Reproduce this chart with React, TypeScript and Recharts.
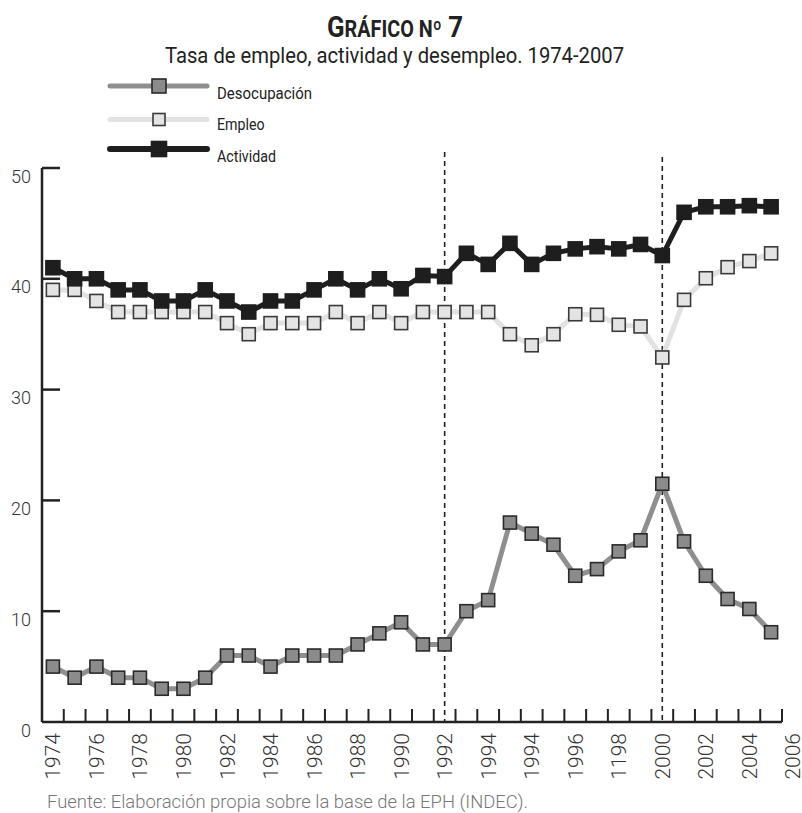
import React from 'react';
import { LineChart, Line, XAxis, YAxis, ReferenceLine, Legend } from 'recharts';

// ---------------------------------------------------------------------------
// Data
// ---------------------------------------------------------------------------

const YEARS = [
  '1974', '1975', '1976', '1977', '1978', '1979', '1980', '1981', '1982', '1983',
  '1984', '1985', '1986', '1987', '1988', '1989', '1990', '1991', '1992', '1993',
  '1994', '1995', '1996', '1997', '1998', '1999', '2000', '2001', '2002', '2003',
  '2004', '2005', '2006', '2007',
];

const DESOCUPACION = [
  5, 4, 5, 4, 4, 3, 3, 4, 6, 6, 5, 6, 6, 6, 7, 8, 9,
  7, 7, 10, 11, 18, 17, 16, 13.2, 13.8, 15.4, 16.4, 21.5, 16.3, 13.2, 11.1, 10.2, 8.1,
];

const EMPLEO = [
  39, 39, 38, 37, 37, 37, 37, 37, 36, 35, 36, 36, 36, 37, 36, 37, 36,
  37, 37, 37, 37, 35, 34, 35, 36.8, 36.75, 35.85, 35.7, 32.9, 38.1, 40.05, 41.05, 41.6, 42.3,
];

const ACTIVIDAD = [
  41, 40, 40, 39, 39, 38, 38, 39, 38, 37, 38, 38, 39, 40, 39, 40, 39.1,
  40.3, 40.2, 42.3, 41.3, 43.2, 41.3, 42.3, 42.7, 42.9, 42.7, 43.1, 42.1, 46, 46.5, 46.5, 46.6, 46.5,
];

// tick labels as printed in the source (every second year, typos included)
const X_TICK_LABELS = [
  '1974', '1976', '1978', '1980', '1982', '1984', '1986', '1988', '1990',
  '1992', '1994', '1994', '1996', '1198', '2000', '2002', '2004', '2006',
];

const Y_TICKS = [0, 10, 20, 30, 40, 50];
const Y_MAX = 50;

// dashed markers: year of the series and how far above the frame they start
const DASHED_YEARS = ['1992', '2002'];
const DASHED_TOPS = [51.45, 51.0];

// ---------------------------------------------------------------------------
// Layout / styles
// ---------------------------------------------------------------------------

const W = 802;
const H = 813;
const MARGIN = { top: 168, right: 20, bottom: 30, left: 0 };
const Y_AXIS_W = 42;
const FRAME_H = 1;
const LABEL_AXIS_H = 60;
const PLOT_TOP = MARGIN.top;
const PLOT_BOTTOM = H - MARGIN.bottom - LABEL_AXIS_H - FRAME_H;

const SERIES = [
  { key: 'desocupacion', name: 'Desocupación', line: '#8f8f8f', fill: '#8b8b8b', edge: '#2a2a2a', dot: 13, width: 5 },
  { key: 'empleo', name: 'Empleo', line: '#e2e2e2', fill: '#e4e4e4', edge: '#3a3a3a', dot: 13, width: 5 },
  { key: 'actividad', name: 'Actividad', line: '#1e1e1e', fill: '#1e1e1e', edge: '#1e1e1e', dot: 14, width: 5 },
];

// legend rows follow SERIES order
const LEGEND_ROWS = [
  { lineY: 86, textY: 99, textW: 95, lineW: 5, dot: 14 },
  { lineY: 119.5, textY: 129.5, textW: 47.5, lineW: 5, dot: 12 },
  { lineY: 149, textY: 161.5, textW: 59, lineW: 6, dot: 15 },
];

const FONT = 'Roboto, "Liberation Sans", sans-serif';
const INK = '#222';

const data = YEARS.map((year, i) => ({
  i,
  year,
  desocupacion: DESOCUPACION[i],
  empleo: EMPLEO[i],
  actividad: ACTIVIDAD[i],
}));

const X_DOMAIN = [-0.5, YEARS.length - 0.5];
const BOUNDARY_TICKS = [...YEARS.map((_, i) => i - 0.5), YEARS.length - 0.5];
const LABEL_TICKS = X_TICK_LABELS.map((_, k) => k * 2);

// ---------------------------------------------------------------------------
// Pieces
// ---------------------------------------------------------------------------

function squareDot(s: (typeof SERIES)[number]) {
  return (props: any) => {
    const { cx, cy, index } = props;
    if (cx == null || cy == null) return <g key={index} />;
    return (
      <rect
        key={index}
        x={cx - s.dot / 2}
        y={cy - s.dot / 2}
        width={s.dot}
        height={s.dot}
        fill={s.fill}
        stroke={s.edge}
        strokeWidth={1.6}
      />
    );
  };
}

// inward tick mark on the x frame (x/y = axis coordinate of the tick)
function XMark({ x, y }: any) {
  return <line x1={x} x2={x} y1={y} y2={y - 13} stroke={INK} strokeWidth={2} />;
}

function XLabel({ x, y, payload }: any) {
  const text = X_TICK_LABELS[payload.value / 2];
  return (
    <text
      x={x}
      y={y}
      transform={`rotate(-90 ${x} ${y})`}
      textAnchor="end"
      dy="0.36em"
      fontSize={21}
      fontFamily={FONT}
      fontWeight={300}
      fill="#333"
    >
      {text}
    </text>
  );
}

function YLabel({ x, y, payload }: any) {
  return (
    <text
      x={x - 11}
      y={y}
      dy={8}
      textAnchor="end"
      dominantBaseline="central"
      fontSize={18}
      fontFamily={FONT}
      fontWeight={300}
      fill="#333"
    >
      {payload.value}
    </text>
  );
}

function LegendContent({ payload }: any) {
  return (
    <svg width={W} height={170} style={{ display: 'block' }}>
      {(payload || []).map((entry: any) => {
        const idx = SERIES.findIndex((d) => d.name === entry.value);
        if (idx < 0) return null;
        const s = SERIES[idx];
        const row = LEGEND_ROWS[idx];
        return (
          <g key={s.key}>
            <line
              x1={110}
              x2={207}
              y1={row.lineY}
              y2={row.lineY}
              stroke={s.line}
              strokeWidth={row.lineW}
              strokeLinecap="round"
            />
            <rect
              x={159 - row.dot / 2}
              y={row.lineY - row.dot / 2}
              width={row.dot}
              height={row.dot}
              fill={s.fill}
              stroke={s.edge}
              strokeWidth={1.6}
            />
            <text
              x={217}
              y={row.textY}
              fontSize={17}
              fontFamily={FONT}
              fill={INK}
              textLength={row.textW}
              lengthAdjust="spacingAndGlyphs"
            >
              {entry.value}
            </text>
          </g>
        );
      })}
    </svg>
  );
}

// ---------------------------------------------------------------------------
// App
// ---------------------------------------------------------------------------

export default function App() {
  // inward y ticks sit on the frame; same linear map as the y axis (0..Y_MAX)
  const yOf = (v: number) => PLOT_BOTTOM - (v / Y_MAX) * (PLOT_BOTTOM - PLOT_TOP);

  return (
    <div style={{ position: 'absolute', top: 0, left: 0, width: W, height: H, background: '#fff' }}>
      <LineChart width={W} height={H} data={data} margin={MARGIN}>
        {/* frame line + inward ticks between years */}
        <XAxis
          xAxisId="b"
          dataKey="i"
          type="number"
          domain={X_DOMAIN}
          allowDataOverflow
          ticks={BOUNDARY_TICKS}
          interval={0}
          height={FRAME_H}
          tickSize={0}
          tickMargin={0}
          tickLine={false}
          tick={(p: any) => <XMark {...p} />}
          axisLine={{ stroke: INK, strokeWidth: 2.5 }}
        />
        {/* year labels, every second year */}
        <XAxis
          xAxisId="lab"
          dataKey="i"
          type="number"
          domain={X_DOMAIN}
          allowDataOverflow
          ticks={LABEL_TICKS}
          interval={0}
          height={LABEL_AXIS_H}
          axisLine={false}
          tickLine={false}
          tickSize={0}
          tickMargin={10}
          tick={(p: any) => <XLabel {...p} />}
        />
        <YAxis
          type="number"
          domain={[0, Y_MAX]}
          ticks={Y_TICKS}
          interval={0}
          width={Y_AXIS_W}
          tickLine={false}
          tickSize={0}
          tickMargin={0}
          axisLine={{ stroke: INK, strokeWidth: 2.5 }}
          tick={(p: any) => <YLabel {...p} />}
        />
        <Legend
          layout="vertical"
          align="center"
          verticalAlign="middle"
          width={W}
          height={170}
          wrapperStyle={{ top: 0, left: 0, width: W, height: 170 }}
          content={(p: any) => <LegendContent {...p} />}
        />
        {DASHED_YEARS.map((yr, k) => {
          const xi = YEARS.indexOf(yr);
          return (
            <ReferenceLine
              key={yr}
              xAxisId="b"
              segment={[{ x: xi, y: DASHED_TOPS[k] }, { x: xi, y: 0 }]}
              ifOverflow="visible"
              stroke={INK}
              strokeWidth={1.6}
              strokeDasharray="5 4"
            />
          );
        })}
        {SERIES.map((s) => (
          <Line
            key={s.key}
            xAxisId="b"
            dataKey={s.key}
            name={s.name}
            type="linear"
            stroke={s.line}
            strokeWidth={s.width}
            strokeLinejoin="round"
            dot={squareDot(s)}
            activeDot={false}
            isAnimationActive={false}
          />
        ))}
      </LineChart>

      <svg
        width={W}
        height={H}
        style={{ position: 'absolute', top: 0, left: 0, pointerEvents: 'none' }}
      >
        {Y_TICKS.filter((v) => v > 0).map((v) => (
          <line
            key={v}
            x1={Y_AXIS_W}
            x2={Y_AXIS_W + 18}
            y1={yOf(v)}
            y2={yOf(v)}
            stroke={INK}
            strokeWidth={2.5}
          />
        ))}
        <text
          x={395}
          y={37}
          textAnchor="middle"
          fontFamily={FONT}
          fontWeight={700}
          fill={INK}
          textLength={136}
          lengthAdjust="spacingAndGlyphs"
        >
          <tspan fontSize={30}>G</tspan>
          <tspan fontSize={23}>RÁFICO Nº</tspan>
          <tspan fontSize={30}> 7</tspan>
        </text>
        <text
          x={394.5}
          y={63}
          textAnchor="middle"
          fontFamily={FONT}
          fontSize={22}
          fill={INK}
          textLength={459}
          lengthAdjust="spacingAndGlyphs"
        >
          Tasa de empleo, actividad y desempleo. 1974-2007
        </text>
        <text
          x={47}
          y={808}
          fontFamily={FONT}
          fontSize={19}
          fontWeight={300}
          fill="#777"
          textLength={481}
          lengthAdjust="spacingAndGlyphs"
        >
          Fuente: Elaboración propia sobre la base de la EPH (INDEC).
        </text>
      </svg>
    </div>
  );
}
